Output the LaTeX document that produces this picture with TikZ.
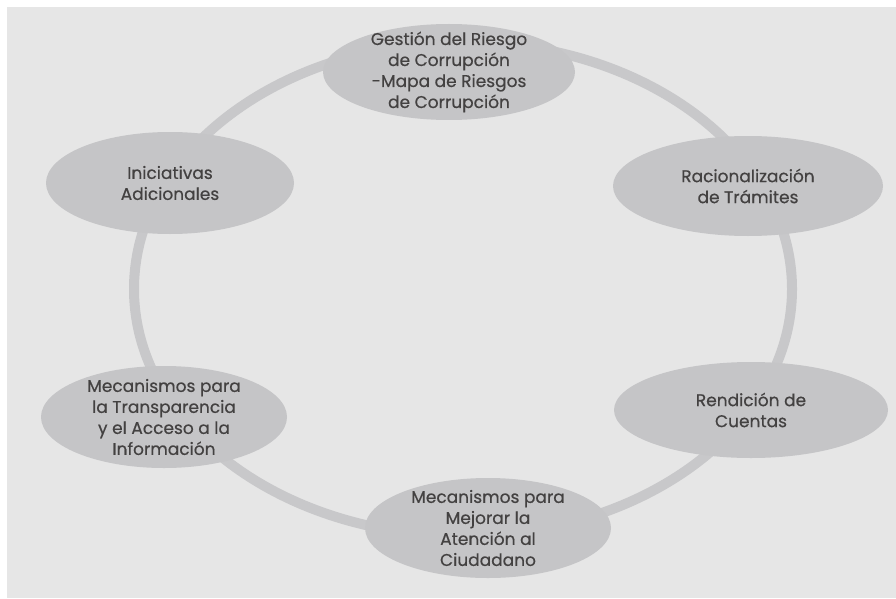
\documentclass[tikz,border=0pt]{standalone}
\usepackage{fontspec}
\setmainfont{Poppins}
\newfontfamily\lblfont{Poppins}[FakeBold=0.5]
\usetikzlibrary{shapes.geometric}
\definecolor{bg}{HTML}{E6E6E6}
\definecolor{blobfill}{HTML}{C5C5C7}
\definecolor{ringcol}{HTML}{C8C8CA}
\definecolor{txt}{HTML}{434141}
\tikzset{
  blob/.style={ellipse, fill=blobfill, draw=none, inner sep=0pt},
  lbl/.style={align=center, text=txt, font=\lblfont\fontsize{17}{21}\selectfont, inner sep=0pt},
  ring/.style={draw=ringcol, line width=10pt}
}
\begin{document}
\begin{tikzpicture}[x=1pt,y=-1pt]
\useasboundingbox (0,0) rectangle (896,599);
\fill[white] (0,0) rectangle (896,599);
\fill[bg] (7,7) rectangle (896,598);
\coordinate (ctr) at (463,289);
\draw[ring] (ctr) ellipse [x radius=329, y radius=247];
\node[blob, minimum width=252pt, minimum height=96pt] (g) at (449,72) {};
\node[blob, minimum width=248pt, minimum height=102pt] (i) at (170,183) {};
\node[blob, minimum width=270pt, minimum height=100pt] (r) at (748,186) {};
\node[blob, minimum width=274pt, minimum height=96pt] (c) at (751,410) {};
\node[blob, minimum width=246pt, minimum height=102pt] (t) at (164,417) {};
\node[blob, minimum width=246pt, minimum height=100pt] (m) at (488,528) {};
\node[lbl] at (g) {Gestión del Riesgo\\de Corrupción\\-Mapa de Riesgos\\de Corrupción};
\node[lbl] at (i) {Iniciativas\\Adicionales};
\node[lbl] at (r) {Racionalización\\de Trámites};
\node[lbl] at (c) {Rendición de\\Cuentas};
\node[lbl] at (t) {Mecanismos para\\la Transparencia\\y el Acceso a la\\Información};
\node[lbl] at (m) {Mecanismos para\\Mejorar la\\Atención al\\Ciudadano};
\end{tikzpicture}
\end{document}
